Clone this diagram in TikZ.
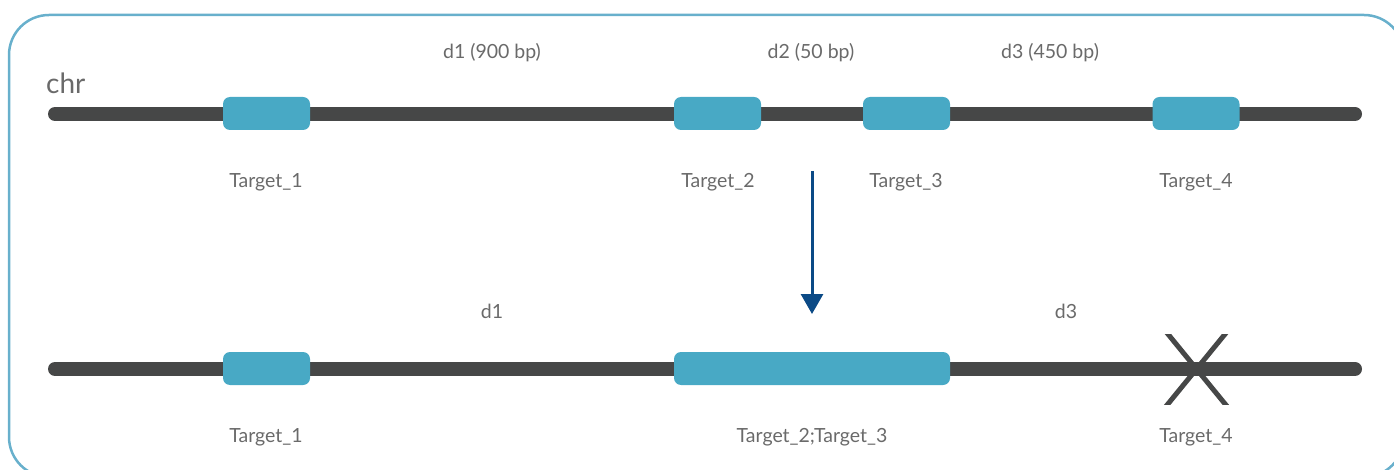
\documentclass[tikz,border=0pt]{standalone}
\usepackage{fontspec}
\setmainfont{Lato}
\usetikzlibrary{arrows.meta}
\definecolor{framec}{HTML}{68B0CC}
\definecolor{chrc}{HTML}{464747}
\definecolor{tgtc}{HTML}{48A9C5}
\definecolor{txtc}{HTML}{6A6A6A}
\definecolor{arrc}{HTML}{0B4A86}
\tikzset{
  chrline/.style={line width=14pt, line cap=round, chrc},
  tgt/.style={fill=tgtc, draw=none, rounded corners=7pt, minimum height=33pt, inner sep=0pt},
  lbl/.style={text=txtc, font=\fontsize{19.5}{22}\selectfont, inner sep=0pt},
  conv/.style={arrc, line width=3pt, -{Triangle[width=22pt,length=20pt]}},
}
\begin{document}
\begin{tikzpicture}[x=1pt,y=-1pt]
\useasboundingbox (0,0) rectangle (1394,470);
% frame
\draw[framec, line width=2.5pt, rounded corners=40pt] (9,15) rectangle (1404,477);
% top chromosome
\coordinate (c1a) at (55,114);
\coordinate (c1b) at (1355,114);
\draw[chrline] (c1a) -- (c1b);
\node[lbl, font=\fontsize{28}{30}\selectfont, anchor=west] (chr) at (46,83) {chr};
\node[tgt, minimum width=87pt] (t1) at (266.5,113.5) {};
\node[tgt, minimum width=87pt] (t2) at (717.5,113.5) {};
\node[tgt, minimum width=87pt] (t3) at (906.5,113.5) {};
\node[tgt, minimum width=87pt] (t4) at (1196,113.5) {};
\node[lbl] (l1) at (266,182) {Target\_1};
\node[lbl] (l2) at (718,182) {Target\_2};
\node[lbl] (l3) at (906,182) {Target\_3};
\node[lbl] (l4) at (1196,182) {Target\_4};
\node[lbl] (d1) at (492,53) {d1 (900 bp)};
\node[lbl] (d2) at (811,53) {d2 (50 bp)};
\node[lbl] (d3) at (1050,53) {d3 (450 bp)};
% arrow
\coordinate (a1) at (812,171);
\coordinate (a2) at (812,314);
\draw[conv] (a1) -- (a2);
% bottom chromosome
\coordinate (c2a) at (55,369);
\coordinate (c2b) at (1355,369);
\draw[chrline] (c2a) -- (c2b);
\node[tgt, minimum width=87pt] (b1) at (266.5,368.5) {};
\node[tgt, minimum width=276pt] (b23) at (812,368.5) {};
\node[lbl] (bl1) at (266,437) {Target\_1};
\node[lbl] (bl23) at (812,437) {Target\_2;Target\_3};
\node[lbl] (bl4) at (1196,437) {Target\_4};
\node[lbl] (e1) at (492,311) {d1};
\node[lbl] (e3) at (1066,311) {d3};
% X
\coordinate (x1) at (1163,328);
\coordinate (x2) at (1230,410);
\coordinate (x3) at (1230,328);
\coordinate (x4) at (1163,410);
\begin{scope}
\clip (1150,334) rectangle (1240,404);
\draw[chrc, line width=5pt] (x1) -- (x2) (x3) -- (x4);
\end{scope}
\end{tikzpicture}
\end{document}
